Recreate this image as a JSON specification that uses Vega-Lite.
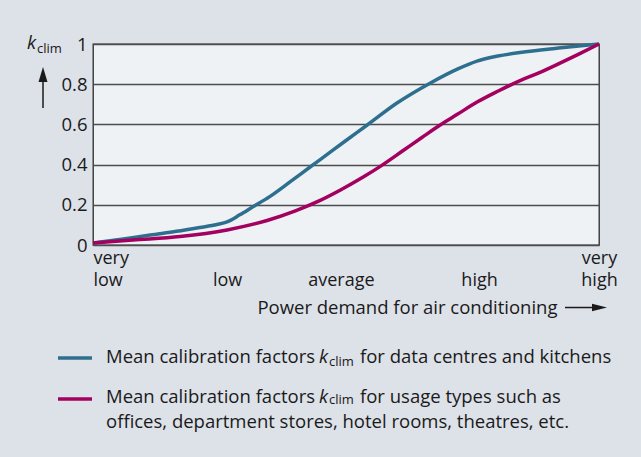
{
  "$schema": "https://vega.github.io/schema/vega-lite/v6.json",
  "width": 506,
  "height": 201,
  "autosize": {"type": "none"},
  "padding": {"left": 93, "top": 44, "right": 42, "bottom": 212},
  "background": "#dde1e8",
  "view": {"fill": "#eef2f5", "stroke": "#2a2a2a", "strokeWidth": 1.3},
  "config": {
    "text": {"font": "Open Sans", "fontSize": 18.5, "align": "left", "baseline": "alphabetic", "color": "#1a1a1a"},
    "axis": {"labelFont": "Open Sans", "labelFontSize": 18.5, "labelColor": "#1a1a1a", "titleFont": "Open Sans", "titleFontSize": 18.5, "titleFontWeight": "normal", "titleColor": "#1a1a1a"}
  },
  "layer": [
    {
      "data": {"values": [
        {"series": "Data centres and kitchens", "x": 0, "k": 0.01},
        {"series": "Data centres and kitchens", "x": 0.06, "k": 0.03},
        {"series": "Data centres and kitchens", "x": 0.113, "k": 0.05},
        {"series": "Data centres and kitchens", "x": 0.165, "k": 0.068},
        {"series": "Data centres and kitchens", "x": 0.211, "k": 0.087},
        {"series": "Data centres and kitchens", "x": 0.245, "k": 0.102},
        {"series": "Data centres and kitchens", "x": 0.265, "k": 0.115},
        {"series": "Data centres and kitchens", "x": 0.29, "k": 0.15},
        {"series": "Data centres and kitchens", "x": 0.316, "k": 0.19},
        {"series": "Data centres and kitchens", "x": 0.35, "k": 0.242},
        {"series": "Data centres and kitchens", "x": 0.39, "k": 0.315},
        {"series": "Data centres and kitchens", "x": 0.429, "k": 0.388},
        {"series": "Data centres and kitchens", "x": 0.449, "k": 0.425},
        {"series": "Data centres and kitchens", "x": 0.5, "k": 0.52},
        {"series": "Data centres and kitchens", "x": 0.542, "k": 0.597},
        {"series": "Data centres and kitchens", "x": 0.6, "k": 0.705},
        {"series": "Data centres and kitchens", "x": 0.666, "k": 0.805},
        {"series": "Data centres and kitchens", "x": 0.72, "k": 0.875},
        {"series": "Data centres and kitchens", "x": 0.759, "k": 0.915},
        {"series": "Data centres and kitchens", "x": 0.8, "k": 0.94},
        {"series": "Data centres and kitchens", "x": 0.844, "k": 0.958},
        {"series": "Data centres and kitchens", "x": 0.92, "k": 0.98},
        {"series": "Data centres and kitchens", "x": 1.0, "k": 1.0},
        {"series": "Usage types such as offices", "x": 0, "k": 0.01},
        {"series": "Usage types such as offices", "x": 0.079, "k": 0.025},
        {"series": "Usage types such as offices", "x": 0.172, "k": 0.042},
        {"series": "Usage types such as offices", "x": 0.265, "k": 0.075},
        {"series": "Usage types such as offices", "x": 0.344, "k": 0.122},
        {"series": "Usage types such as offices", "x": 0.4, "k": 0.17},
        {"series": "Usage types such as offices", "x": 0.449, "k": 0.222},
        {"series": "Usage types such as offices", "x": 0.49, "k": 0.275},
        {"series": "Usage types such as offices", "x": 0.534, "k": 0.338},
        {"series": "Usage types such as offices", "x": 0.567, "k": 0.39},
        {"series": "Usage types such as offices", "x": 0.613, "k": 0.47},
        {"series": "Usage types such as offices", "x": 0.65, "k": 0.535},
        {"series": "Usage types such as offices", "x": 0.686, "k": 0.597},
        {"series": "Usage types such as offices", "x": 0.72, "k": 0.65},
        {"series": "Usage types such as offices", "x": 0.759, "k": 0.711},
        {"series": "Usage types such as offices", "x": 0.8, "k": 0.765},
        {"series": "Usage types such as offices", "x": 0.844, "k": 0.818},
        {"series": "Usage types such as offices", "x": 0.88, "k": 0.855},
        {"series": "Usage types such as offices", "x": 0.923, "k": 0.905},
        {"series": "Usage types such as offices", "x": 0.96, "k": 0.95},
        {"series": "Usage types such as offices", "x": 1.0, "k": 1.0}
      ]},
      "mark": {"type": "line", "interpolate": "monotone", "strokeWidth": 3.5},
      "encoding": {
        "x": {
          "field": "x", "type": "quantitative",
          "scale": {"domain": [0, 1], "nice": false, "zero": false},
          "axis": {
            "values": [0, 0.265, 0.49, 0.763, 1],
            "labelExpr": "datum.value == 0 ? ['very', 'low'] : datum.value == 1 ? ['very', 'high'] : datum.value < 0.3 ? ['\u00a0', 'low'] : datum.value < 0.6 ? ['\u00a0', 'average'] : ['\u00a0', 'high']",
            "labelAlign": {"condition": {"test": "datum.value == 0", "value": "left"}, "value": "center"},
            "labelBaseline": "top",
            "labelFontSize": 18,
            "labelLineHeight": 22,
            "labelPadding": 4,
            "labelFlush": false,
            "labelOverlap": false,
            "ticks": false,
            "domain": false,
            "grid": false,
            "title": "Power demand for air conditioning",
            "titleX": 464,
            "titleY": 68,
            "titleAlign": "right",
            "titleBaseline": "alphabetic",
            "titleAnchor": null
          }
        },
        "y": {
          "field": "k", "type": "quantitative",
          "scale": {"domain": [0, 1], "nice": false},
          "axis": {
            "values": [0, 0.2, 0.4, 0.6, 0.8, 1],
            "format": "~g",
            "ticks": false,
            "domain": false,
            "grid": true,
            "gridColor": "#4d4d4d",
            "gridWidth": 1.3,
            "labelPadding": 6,
            "title": null
          }
        },
        "color": {
          "field": "series", "type": "nominal",
          "scale": {"domain": ["Data centres and kitchens", "Usage types such as offices"], "range": ["#2e6f8f", "#a3005f"]},
          "legend": null
        }
      }
    },
    {
      "data": {"values": [{"t": "k"}]},
      "mark": {"type": "text", "fontStyle": "italic"},
      "encoding": {"x": {"datum": -0.1304, "type": "quantitative"}, "y": {"datum": 0.9776, "type": "quantitative"}, "text": {"field": "t"}}
    },
    {
      "data": {"values": [{"t": "clim"}]},
      "mark": {"type": "text", "fontSize": 13},
      "encoding": {"x": {"datum": -0.1107, "type": "quantitative"}, "y": {"datum": 0.9577, "type": "quantitative"}, "text": {"field": "t"}}
    },
    {
      "data": {"values": [{"part": "shaft"}]},
      "mark": {"type": "rule", "color": "#1a1a1a", "strokeWidth": 1.5},
      "encoding": {"x": {"datum": -0.0988, "type": "quantitative"}, "y": {"datum": 0.6816, "type": "quantitative"}, "y2": {"datum": 0.82}}
    },
    {
      "data": {"values": [{"part": "head"}]},
      "mark": {"type": "point", "filled": true, "opacity": 1, "color": "#1a1a1a", "size": 225, "shape": "M-0.6,1L0,-1L0.6,1Z"},
      "encoding": {"x": {"datum": -0.0988, "type": "quantitative"}, "y": {"datum": 0.8483, "type": "quantitative"}}
    },
    {
      "data": {"values": [{"part": "shaft"}]},
      "mark": {"type": "rule", "color": "#1a1a1a", "strokeWidth": 1.5},
      "encoding": {"x": {"datum": 0.9328, "type": "quantitative"}, "x2": {"datum": 0.99}, "y": {"datum": -0.311, "type": "quantitative"}}
    },
    {
      "data": {"values": [{"part": "head"}]},
      "mark": {"type": "point", "filled": true, "opacity": 1, "color": "#1a1a1a", "size": 225, "shape": "M-1,-0.5L1,0L-1,0.5Z"},
      "encoding": {"x": {"datum": 1.001, "type": "quantitative"}, "y": {"datum": -0.311, "type": "quantitative"}}
    },
    {
      "data": {"values": [{"series": "Data centres and kitchens"}]},
      "mark": {"type": "rule", "strokeWidth": 3.5, "color": "#2e6f8f"},
      "encoding": {"x": {"datum": -0.0692, "type": "quantitative"}, "x2": {"datum": -0.002}, "y": {"datum": -0.5622, "type": "quantitative"}}
    },
    {
      "data": {"values": [{"series": "Usage types such as offices"}]},
      "mark": {"type": "rule", "strokeWidth": 3.5, "color": "#a3005f"},
      "encoding": {"x": {"datum": -0.0692, "type": "quantitative"}, "x2": {"datum": -0.002}, "y": {"datum": -0.7662, "type": "quantitative"}}
    },
    {
      "data": {"values": [{"t": "Mean calibration factors"}]},
      "mark": {"type": "text"},
      "encoding": {"x": {"datum": 0.0257, "type": "quantitative"}, "y": {"datum": -0.5871, "type": "quantitative"}, "text": {"field": "t"}}
    },
    {
      "data": {"values": [{"t": "k"}]},
      "mark": {"type": "text", "fontStyle": "italic"},
      "encoding": {"x": {"datum": 0.4466, "type": "quantitative"}, "y": {"datum": -0.5871, "type": "quantitative"}, "text": {"field": "t"}}
    },
    {
      "data": {"values": [{"t": "clim"}]},
      "mark": {"type": "text", "fontSize": 13},
      "encoding": {"x": {"datum": 0.4664, "type": "quantitative"}, "y": {"datum": -0.6, "type": "quantitative"}, "text": {"field": "t"}}
    },
    {
      "data": {"values": [{"t": "for data centres and kitchens"}]},
      "mark": {"type": "text"},
      "encoding": {"x": {"datum": 0.5277, "type": "quantitative"}, "y": {"datum": -0.5871, "type": "quantitative"}, "text": {"field": "t"}}
    },
    {
      "data": {"values": [{"t": "Mean calibration factors"}]},
      "mark": {"type": "text"},
      "encoding": {"x": {"datum": 0.0257, "type": "quantitative"}, "y": {"datum": -0.7861, "type": "quantitative"}, "text": {"field": "t"}}
    },
    {
      "data": {"values": [{"t": "k"}]},
      "mark": {"type": "text", "fontStyle": "italic"},
      "encoding": {"x": {"datum": 0.4466, "type": "quantitative"}, "y": {"datum": -0.7861, "type": "quantitative"}, "text": {"field": "t"}}
    },
    {
      "data": {"values": [{"t": "clim"}]},
      "mark": {"type": "text", "fontSize": 13},
      "encoding": {"x": {"datum": 0.4664, "type": "quantitative"}, "y": {"datum": -0.791, "type": "quantitative"}, "text": {"field": "t"}}
    },
    {
      "data": {"values": [{"t": "for usage types such as"}]},
      "mark": {"type": "text"},
      "encoding": {"x": {"datum": 0.5277, "type": "quantitative"}, "y": {"datum": -0.7861, "type": "quantitative"}, "text": {"field": "t"}}
    },
    {
      "data": {"values": [{"t": "offices, department stores, hotel rooms, theatres, etc."}]},
      "mark": {"type": "text"},
      "encoding": {"x": {"datum": 0.0257, "type": "quantitative"}, "y": {"datum": -0.9104, "type": "quantitative"}, "text": {"field": "t"}}
    }
  ]
}
